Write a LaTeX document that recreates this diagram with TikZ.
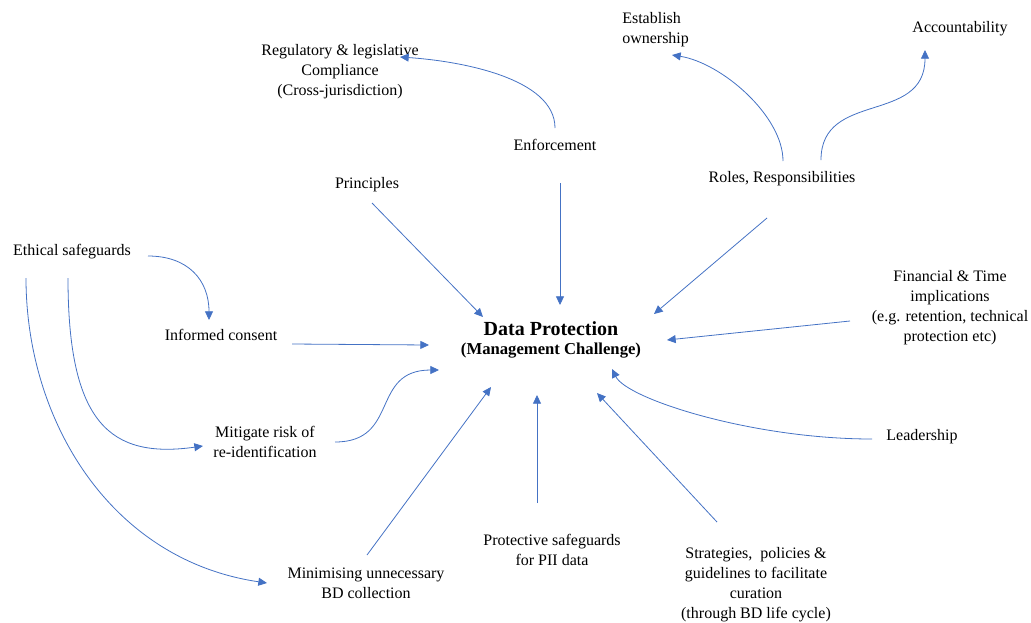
\documentclass[tikz,border=0pt]{standalone}
\usepackage{fontspec}
\setmainfont{Liberation Serif}
\usetikzlibrary{calc,arrows.meta}
\definecolor{arrblue}{HTML}{4472C4}

\begin{document}
\begin{tikzpicture}[x=0.75pt,y=-0.75pt,
    txt/.style={align=center,inner sep=0pt,font=\fontsize{12}{15}\selectfont},
    arr/.style={arrblue,line width=0.6pt,-{Triangle[length=6.5pt,width=6pt]}}]
    \useasboundingbox (0,0) rectangle (1031,622); %按像素坐标取整个画面

    % 中心
    \node [txt,font=\bfseries] (dp) at (551,340) {{\fontsize{15}{18}\selectfont Data Protection}\\[2pt]{\fontsize{12.5}{15}\selectfont (Management Challenge)}};

    % 四周的文字
    \node [txt] (reg) at (340,72) {Regulatory \& legislative\\Compliance\\(Cross-jurisdiction)};
    \node [txt,align=left,anchor=west] (own) at (622,30) {Establish\\ownership};
    \node [txt] (acc) at (960,29) {Accountability};
    \node [txt] (enf) at (555,145) {Enforcement};
    \node [txt] (prin) at (367,185) {Principles};
    \node [txt] (roles) at (782,179) {Roles, Responsibilities};
    \node [txt] (eth) at (72,252) {Ethical safeguards};
    \node [txt] (inf) at (221,335) {Informed consent};
    \node [txt] (miti) at (265,442) {Mitigate risk of\\re-identification};
    \node [txt] (fin) at (950,308) {Financial \& Time\\implications\\(e.g. retention, technical\\protection etc)};
    \node [txt] (lead) at (922,437) {Leadership};
    \node [txt] (mini) at (366,583) {Minimising unnecessary\\BD collection};
    \node [txt] (prot) at (552,550) {Protective safeguards\\for PII data};
    \node [txt] (strat) at (756,585) {Strategies,\ \ policies \&\\guidelines to facilitate\\curation\\(through BD life cycle)};

    % 上方的弯箭头
    \draw [arr] ($(enf)+(0,-17)$) .. controls +(0,-50) and +(60,4) .. ($(reg)+(60,-15)$);
    \draw [arr] ($(roles)+(1,-18)$) .. controls +(0,-45) and +(50,8) .. ($(own.west)+(50,25)$);
    \draw [arr] ($(roles)+(39,-19)$) .. controls +(0,-70) and +(0,75) .. ($(acc)+(-35,21)$);

    % 指向中心的箭头
    \draw [arr] ($(enf)+(5,38)$) -- ($(dp)+(9,-35)$);
    \draw [arr] ($(prin)+(5,18)$) -- ($(dp)+(-68,-23)$);
    \draw [arr] ($(roles)+(-15,39)$) -- ($(dp)+(103,-26)$);
    \draw [arr] ($(fin)+(-100,13)$) -- ($(dp)+(116,0)$);
    \draw [arr] ($(lead)+(-50,2)$) .. controls +(-120,0) and +(15,30) .. ($(dp)+(61,29)$);
    \draw [arr] ($(strat)+(-39,-63)$) -- ($(dp)+(46,53)$);
    \draw [arr] ($(prot)+(-15,-47)$) -- ($(dp)+(-14,55)$);
    \draw [arr] ($(mini)+(1,-28)$) -- ($(dp)+(-60,47)$);
    \draw [arr] ($(miti)+(70,0)$) .. controls +(65,0) and +(-69,0) .. ($(dp)+(-112,30)$);
    \draw [arr] ($(inf)+(71,9)$) -- ($(dp)+(-122,5)$);

    % Ethical safeguards 分出的三条
    \draw [arr] ($(eth)+(76,4)$) .. controls +(40,0) and +(0,-40) .. ($(inf)+(-12,-15)$);
    \draw [arr] ($(eth)+(-4,26)$) .. controls +(0,145) and +(-93,13) .. ($(miti)+(-62,4)$);
    \draw [arr] ($(eth)+(-46,26)$) .. controls +(0,142) and +(-157,-23) .. ($(mini)+(-99,0)$);
\end{tikzpicture}
\end{document}
